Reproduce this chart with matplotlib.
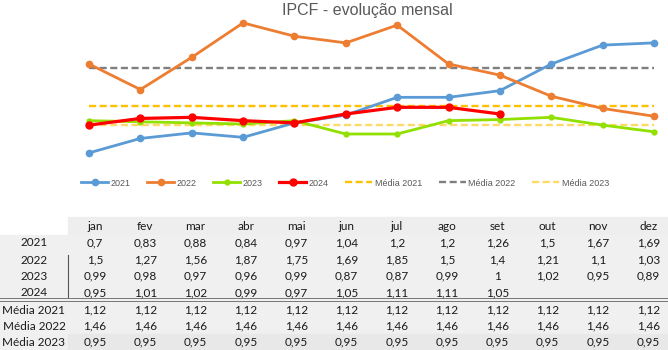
import matplotlib
matplotlib.use("Agg")
import matplotlib.pyplot as plt
from matplotlib.patches import Rectangle
from matplotlib.lines import Line2D

months = ['jan', 'fev', 'mar', 'abr', 'mai', 'jun', 'jul', 'ago', 'set', 'out', 'nov', 'dez']
v2021 = [0.7, 0.83, 0.88, 0.84, 0.97, 1.04, 1.2, 1.2, 1.26, 1.5, 1.67, 1.69]
v2022 = [1.5, 1.27, 1.56, 1.87, 1.75, 1.69, 1.85, 1.5, 1.4, 1.21, 1.1, 1.03]
v2023 = [0.99, 0.98, 0.97, 0.96, 0.99, 0.87, 0.87, 0.99, 1, 1.02, 0.95, 0.89]
v2024 = [0.95, 1.01, 1.02, 0.99, 0.97, 1.05, 1.11, 1.11, 1.05]
media2021 = [1.12] * 12
media2022 = [1.46] * 12
media2023 = [0.95] * 12

W, H = 668, 350
fig = plt.figure(figsize=(W / 100, H / 100), dpi=100)

def fx(x):
    return x / W

def fy(y):
    return 1 - y / H

# chart area
ax = fig.add_axes([fx(89), fy(164), fx(654 - 89), (164 - 14) / H])
ax.set_xlim(0, 11)
ax.set_ylim(0.6, 1.95)
ax.axis('off')
x = list(range(12))

ax.plot(x, media2021, ls=(0, (3, 1.5)), color='#FFC000', lw=1.7, label='Média 2021', clip_on=False)
ax.plot(x, media2022, ls=(0, (3, 1.5)), color='#7F7F7F', lw=1.7, label='Média 2022', clip_on=False)
ax.plot(x, media2023, ls=(0, (3, 1.5)), color='#FFD966', lw=1.7, label='Média 2023', clip_on=False)
ax.plot(x, v2021, color='#5B9BD5', lw=2, marker='o', ms=4.5, label='2021', clip_on=False)
ax.plot(x, v2022, color='#ED7D31', lw=2, marker='o', ms=4.5, label='2022', clip_on=False)
ax.plot(x, v2023, color='#92E000', lw=2, marker='o', ms=3.5, label='2023', clip_on=False)
ax.plot(range(len(v2024)), v2024, color='#FF0000', lw=2.3, marker='o', ms=5, label='2024', clip_on=False)

fig.text(fx(367), fy(10), 'IPCF - evolução mensal', ha='center', va='center',
         fontsize=11.5, color='#595959', family='Liberation Sans')

h, l = ax.get_legend_handles_labels()
order = [3, 4, 5, 6, 0, 1, 2]
fig.legend([h[i] for i in order], [l[i] for i in order], loc='center',
           bbox_to_anchor=(fx(345), fy(183)), ncol=7, frameon=False,
           prop={'family': 'Liberation Sans', 'size': 6.5}, labelcolor='#595959',
           handlelength=3, handletextpad=0.3, columnspacing=1.8, numpoints=1)

# table backgrounds
fig.patches.append(Rectangle((fx(68), fy(235)), fx(600), 18 / H, transform=fig.transFigure,
                             color='#eeeeee', zorder=0))
fig.patches.append(Rectangle((0, 0), 1, fy(235), transform=fig.transFigure,
                             color='#f0f0f0', zorder=0))
fig.patches.append(Rectangle((fx(68), 0), fx(600), 16 / H, transform=fig.transFigure,
                             color='#e8e8e8', zorder=0))
fig.lines.append(Line2D([fx(68), fx(68)], [fy(255), fy(298)], transform=fig.transFigure,
                        color='#555555', lw=0.8))
for yy in (297.5, 300.5):
    fig.lines.append(Line2D([0, 1], [fy(yy), fy(yy)], transform=fig.transFigure,
                            color='#777777', lw=0.7))

def fmt(v):
    return f"{v:g}".replace('.', ',')

tfont = dict(family='Lato', fontsize=8.5, color='#1a1a1a', ha='center', va='center')
col_x = [95 + 50.3 * i for i in range(12)]
for cx, m in zip(col_x, months):
    fig.text(fx(cx), fy(227), m, **tfont)

rows = [('2021', v2021), ('2022', v2022), ('2023', v2023), ('2024', v2024),
        ('Média 2021', media2021), ('Média 2022', media2022), ('Média 2023', media2023)]
row_y = [243, 260, 276, 293, 310, 326, 342]
for (name, vals), ry in zip(rows, row_y):
    fig.text(fx(34), fy(ry), name, **tfont)
    for cx, v in zip(col_x, vals):
        fig.text(fx(cx), fy(ry), fmt(v), **tfont)

fig.savefig('out.png', dpi=100)
